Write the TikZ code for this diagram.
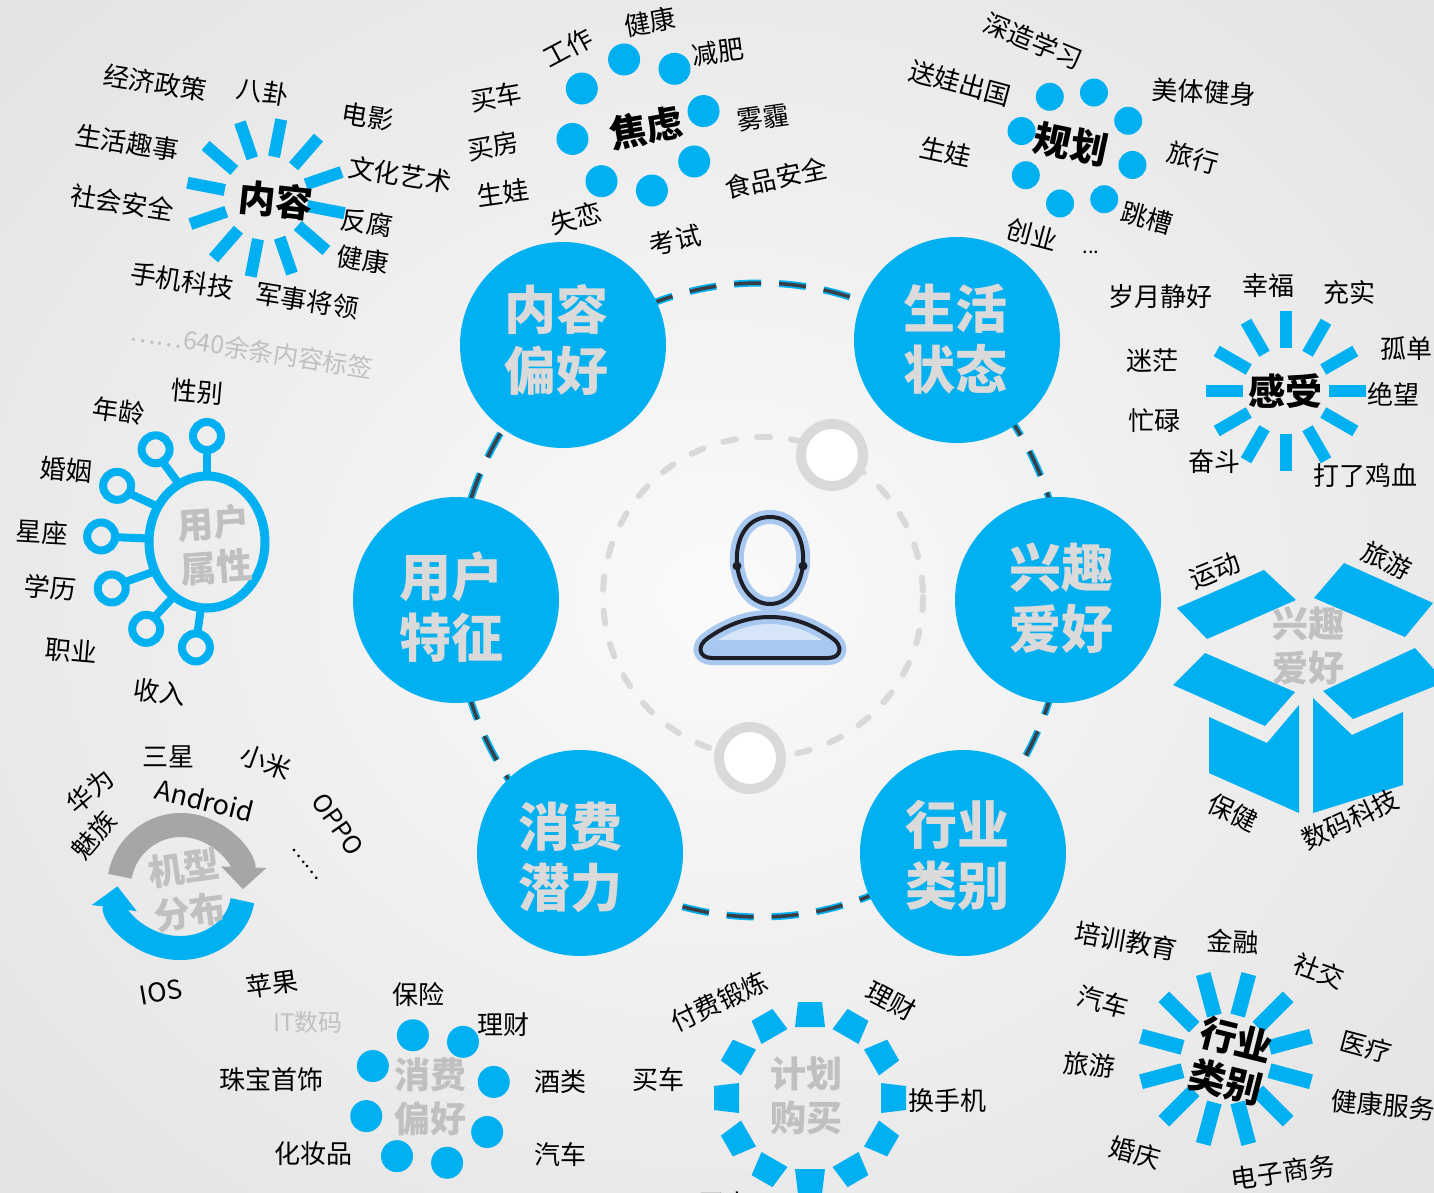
\documentclass[tikz,border=0pt]{standalone}
\usepackage{fontspec}
\setmainfont{Noto Sans CJK SC}
\usetikzlibrary{arrows.meta,calc}

\definecolor{cblue}{RGB}{0,176,240}
\definecolor{circtext}{RGB}{218,218,218}
\definecolor{gtitle}{RGB}{192,192,192}
\definecolor{garc}{RGB}{166,166,166}
\definecolor{ringgray}{RGB}{217,217,217}
\definecolor{dashdark}{RGB}{58,62,70}
\definecolor{glow}{RGB}{168,200,240}
\definecolor{glowpale}{RGB}{214,230,248}
\definecolor{iconline}{RGB}{30,30,40}
\definecolor{bgin}{RGB}{250,250,250}
\definecolor{bgout}{RGB}{228,228,228}

\tikzset{
  lbl/.style={font=\fontsize{26}{30}\selectfont, text=black, inner sep=0pt},
  ttl/.style={font=\bfseries\fontsize{37}{44}\selectfont, text=black, inner sep=0pt, align=center},
  gttl/.style={font=\bfseries\fontsize{36}{44}\selectfont, text=gtitle, inner sep=0pt, align=center},
  bigtxt/.style={font=\bfseries\fontsize{52}{61}\selectfont, text=circtext, inner sep=0pt, align=center},
  bigc/.style={circle, fill=cblue, minimum size=206pt, inner sep=0pt},
  dotc/.style={circle, fill=cblue, minimum size=#1, inner sep=0pt},
  ray/.style={draw=cblue, line width=#1},
  sat/.style={circle, draw=cblue, line width=8pt, minimum size=28pt, inner sep=0pt},
  stem/.style={draw=cblue, line width=8pt},
  marker/.style={circle, draw=ringgray, line width=10pt, fill=white, minimum size=62pt, inner sep=0pt},
  bodyline/.style={insert path={(712,658) -- (828,658) .. controls (842,658) and (843,645) .. (832,638)
    .. controls (812,624) and (792,617) .. (770,617) .. controls (748,617) and (728,624) .. (708,638)
    .. controls (697,645) and (698,658) .. (712,658) -- cycle}},
  headline/.style={insert path={(770,517) .. controls (794,517) and (805,540) .. (803,565)
    .. controls (800,590) and (786,604) .. (770,604) .. controls (754,604) and (740,590) .. (737,565)
    .. controls (735,540) and (746,517) .. (770,517) -- cycle}},
}

\begin{document}
\begin{tikzpicture}[x=1pt,y=-1pt]
\useasboundingbox (0,0) rectangle (1434,1193);
\clip (0,0) rectangle (1434,1193);
\shade[inner color=bgin, outer color=bgout] (-220,-220) rectangle (1654,1413);

% ---------- ring joining the six themes
\draw[cblue, line width=7pt, dash pattern=on 27pt off 18pt] (760,600) ellipse [x radius=305, y radius=317];
\draw[dashdark, line width=3.5pt, dash pattern=on 27pt off 18pt] (760,600) ellipse [x radius=305, y radius=317];

% ---------- inner orbit around the user
\draw[ringgray, line width=6pt, line cap=round, dash pattern=on 13pt off 21pt] (763,597) circle [radius=160];
\node[marker] (orbA) at (832,455) {};
\node[marker] (orbB) at (750,758) {};

% ---------- user icon
\fill[glowpale, bodyline];
\fill[glow] (704,640) rectangle (836,660);
\draw[glow, line width=14pt, line join=round, bodyline];
\draw[glow, line width=14pt, headline];
\draw[iconline, line width=4pt, headline];
\fill[iconline] (737,566) circle [radius=4.5];
\fill[iconline] (803,566) circle [radius=4.5];
\draw[iconline, line width=4pt, line join=round, bodyline];

% ---------- six theme circles
\node[bigc] (cNR) at (563,345) {};
\node[bigc] (cSH) at (957,340) {};
\node[bigc] (cYH) at (456,600) {};
\node[bigc] (cXQ) at (1058,600) {};
\node[bigc] (cXF) at (580,853) {};
\node[bigc] (cHY) at (963,853) {};
\node[bigtxt] (tNR) at (556,340) {内容\\偏好};
\node[bigtxt] (tSH) at (955,339) {生活\\状态};
\node[bigtxt] (tYH) at (451,607) {用户\\特征};
\node[bigtxt] (tXQ) at (1061,598) {兴趣\\爱好};
\node[bigtxt] (tXF) at (570,857) {消费\\潜力};
\node[bigtxt] (tHY) at (957,855) {行业\\类别};

% ---------- content cluster
\coordinate (nc) at (266,198);
\foreach \a in {11,41,...,341} \draw[ray=12pt] ($(nc)+(\a:42)$) -- ($(nc)+(\a:80)$);
\node[ttl, rotate=-6] (nT) at (276,200) {内容};
\node[lbl, rotate=-9] (n1) at (155,83) {经济政策};
\node[lbl, rotate=-9] (n2) at (263,92) {八卦};
\node[lbl, rotate=-9] (n3) at (368,117) {电影};
\node[lbl, rotate=-9] (n4) at (127,143) {生活趣事};
\node[lbl, rotate=-9] (n5) at (400,175) {文化艺术};
\node[lbl, rotate=-9] (n6) at (122,203) {社会安全};
\node[lbl, rotate=-9] (n7) at (367,223) {反腐};
\node[lbl, rotate=-9] (n8) at (363,260) {健康};
\node[lbl, rotate=-9] (n9) at (182,281) {手机科技};
\node[lbl, rotate=-9] (n10) at (307,301) {军事将领};
\node[lbl, rotate=-9, text=gtitle, font=\fontsize{25}{30}\selectfont] (n11) at (252,350) {……640余条内容标签};

% ---------- anxiety cluster
\coordinate (jc) at (638,125);
\foreach \a in {33,78,...,348} \node[dotc=32pt] (jd\a) at ($(jc)+(\a:67)$) {};
\node[ttl, rotate=10] (jT) at (646,128) {焦虑};
\node[lbl, rotate=28] (j1) at (568,48) {工作};
\node[lbl, rotate=10] (j2) at (650,22) {健康};
\node[lbl, rotate=8] (j3) at (718,52) {减肥};
\node[lbl, rotate=10] (j4) at (496,97) {买车};
\node[lbl, rotate=8] (j5) at (763,118) {雾霾};
\node[lbl, rotate=10] (j6) at (493,146) {买房};
\node[lbl, rotate=12] (j7) at (776,178) {食品安全};
\node[lbl, rotate=8] (j8) at (503,193) {生娃};
\node[lbl, rotate=15] (j9) at (576,218) {失恋};
\node[lbl, rotate=12] (j10) at (675,240) {考试};

% ---------- planning cluster
\coordinate (gc) at (1077,148);
\foreach \a in {17,62,...,332} \node[dotc=28pt] (gd\a) at ($(gc)+(\a:58)$) {};
\node[ttl, rotate=-12] (gT) at (1071,144) {规划};
\node[lbl, rotate=-22] (g1) at (1033,41) {深造学习};
\node[lbl, rotate=-15] (g2) at (960,83) {送娃出国};
\node[lbl, rotate=-3] (g3) at (1204,92) {美体健身};
\node[lbl, rotate=-12] (g4) at (946,152) {生娃};
\node[lbl, rotate=-15] (g5) at (1193,158) {旅行};
\node[lbl, rotate=-15] (g6) at (1147,218) {跳槽};
\node[lbl, rotate=-15] (g7) at (1032,235) {创业};
\node[lbl, font=\fontsize{20}{24}\selectfont] (g8) at (1091,252) {...};

% ---------- feeling cluster
\coordinate (fc) at (1286,391);
\foreach \a in {0,30,...,330} \draw[ray=12pt] ($(fc)+(\a:43)$) -- ($(fc)+(\a:80)$);
\node[ttl] (fT) at (1285,391) {感受};
\node[lbl] (f1) at (1160,297) {岁月静好};
\node[lbl] (f2) at (1268,286) {幸福};
\node[lbl] (f3) at (1349,293) {充实};
\node[lbl] (f4) at (1406,349) {孤单};
\node[lbl] (f5) at (1152,361) {迷茫};
\node[lbl] (f6) at (1393,394) {绝望};
\node[lbl] (f7) at (1154,421) {忙碌};
\node[lbl] (f8) at (1214,462) {奋斗};
\node[lbl] (f9) at (1365,476) {打了鸡血};

% ---------- hobby box
\fill[cblue] (1177,608) -- (1264,570) -- (1296,600) -- (1207,639) -- cycle;
\fill[cblue] (1314,598) -- (1344,563) -- (1433,603) -- (1405,637) -- cycle;
\fill[cblue] (1173,685) -- (1205,653) -- (1295,692) -- (1265,726) -- cycle;
\fill[cblue] (1323,691) -- (1415,648) -- (1445,682) -- (1353,719) -- cycle;
\fill[cblue] (1209,717) -- (1267,743) -- (1299,705) -- (1299,813) -- (1209,773) -- cycle;
\fill[cblue] (1313,698) -- (1352,735) -- (1403,712) -- (1403,785) -- (1313,813) -- cycle;
\node[gttl] (bT) at (1308,646) {兴趣\\爱好};
\node[lbl, rotate=22] (b1) at (1215,571) {运动};
\node[lbl, rotate=-25] (b2) at (1387,561) {旅游};
\node[lbl, rotate=-25] (b3) at (1233,813) {保健};
\node[lbl, rotate=25] (b4) at (1350,820) {数码科技};

% ---------- user attributes
\coordinate (um) at (207,542);
\foreach \a/\n in {96/u1,125/u2,154/u3,183/u4,212/u5,241/u6,270/u7} {
  \draw[stem] ($(um)+(\a:92)$) -- ($(um)+(\a:60 and 68)$);
  \node[sat] (\n) at ($(um)+(\a:106)$) {};
}
\draw[cblue, line width=9pt] (um) ellipse [x radius=58, y radius=66];
\node[gttl, rotate=4] (uT) at (215,545) {用户\\属性};
\node[lbl, rotate=-5] (ua) at (197,392) {性别};
\node[lbl, rotate=-8] (ub) at (119,411) {年龄};
\node[lbl, rotate=-5] (uc) at (66,470) {婚姻};
\node[lbl, rotate=-3] (ud) at (42,532) {星座};
\node[lbl, rotate=-5] (ue) at (50,588) {学历};
\node[lbl, rotate=-5] (uf) at (71,651) {职业};
\node[lbl, rotate=-8] (ug) at (160,692) {收入};

% ---------- phone model cycle
\draw[garc, line width=24pt, -{Triangle[width=44pt,length=22pt]}] ($(181,887)+(190:62)$) arc[start angle=190, end angle=362, radius=62];
\draw[cblue, line width=24pt, -{Triangle[width=44pt,length=22pt]}] ($(180,893)+(8:63 and 55)$) arc[start angle=8, end angle=187, x radius=63, y radius=55];
\node[gttl, rotate=8] (mT) at (187,890) {机型\\分布};
\node[lbl] (m1) at (168,757) {三星};
\node[lbl, rotate=-20] (m2) at (266,762) {小米};
\node[lbl, rotate=40] (m3) at (90,791) {华为};
\node[lbl, rotate=50] (m4) at (94,835) {魅族};
\node[lbl, rotate=-14, font=\fontsize{27}{30}\selectfont] (m5) at (205,800) {Android};
\node[lbl, rotate=-55, font=\fontsize{25}{30}\selectfont] (m6) at (338,824) {OPPO};
\node[lbl, rotate=-52, font=\fontsize{20}{24}\selectfont] (m7) at (305,864) {……};
\node[lbl, rotate=10] (m8) at (161,992) {IOS};
\node[lbl, rotate=8] (m9) at (272,984) {苹果};
\node[lbl, text=gtitle, font=\fontsize{24}{28}\selectfont] (m10) at (308,1022) {IT数码};

% ---------- spending preference
\coordinate (sc) at (430,1099);
\foreach \a in {30,75,...,345} \node[dotc=32pt] (sd\a) at ($(sc)+(\a:66)$) {};
\node[gttl] (sT) at (430,1097) {消费\\偏好};
\node[lbl] (s1) at (418,995) {保险};
\node[lbl] (s2) at (503,1025) {理财};
\node[lbl] (s3) at (271,1080) {珠宝首饰};
\node[lbl] (s4) at (560,1082) {酒类};
\node[lbl] (s5) at (313,1154) {化妆品};
\node[lbl] (s6) at (560,1155) {汽车};

% ---------- planned purchase
\coordinate (pc) at (810,1098);
\foreach \a in {0,30,...,330}
  \fill[cblue, shift={(pc)}, rotate=\a] (71,-15) -- (96,-12) -- (96,12) -- (71,15) -- cycle;
\node[gttl] (pT) at (806,1096) {计划\\购买};
\node[lbl, rotate=25] (p1) at (719,1002) {付费锻炼};
\node[lbl, rotate=-28] (p2) at (891,1001) {理财};
\node[lbl] (p3) at (658,1080) {买车};
\node[lbl] (p4) at (947,1101) {换手机};
\node[lbl] (p5) at (724,1204) {买房};

% ---------- industry cluster
\coordinate (ic) at (1226,1059);
\foreach \a in {15,45,...,345} \draw[ray=15pt] ($(ic)+(\a:45)$) -- ($(ic)+(\a:88)$);
\node[ttl, rotate=-14] (iT) at (1231,1061) {行业\\类别};
\node[lbl, rotate=-10] (i1) at (1126,941) {培训教育};
\node[lbl, rotate=-3] (i2) at (1233,942) {金融};
\node[lbl, rotate=-20] (i3) at (1319,971) {社交};
\node[lbl, rotate=-15] (i4) at (1103,1002) {汽车};
\node[lbl, rotate=-15] (i5) at (1366,1047) {医疗};
\node[lbl, rotate=-5] (i6) at (1089,1065) {旅游};
\node[lbl, rotate=-5] (i7) at (1383,1105) {健康服务};
\node[lbl, rotate=-15] (i8) at (1135,1153) {婚庆};
\node[lbl, rotate=8] (i9) at (1283,1172) {电子商务};
\end{tikzpicture}
\end{document}
